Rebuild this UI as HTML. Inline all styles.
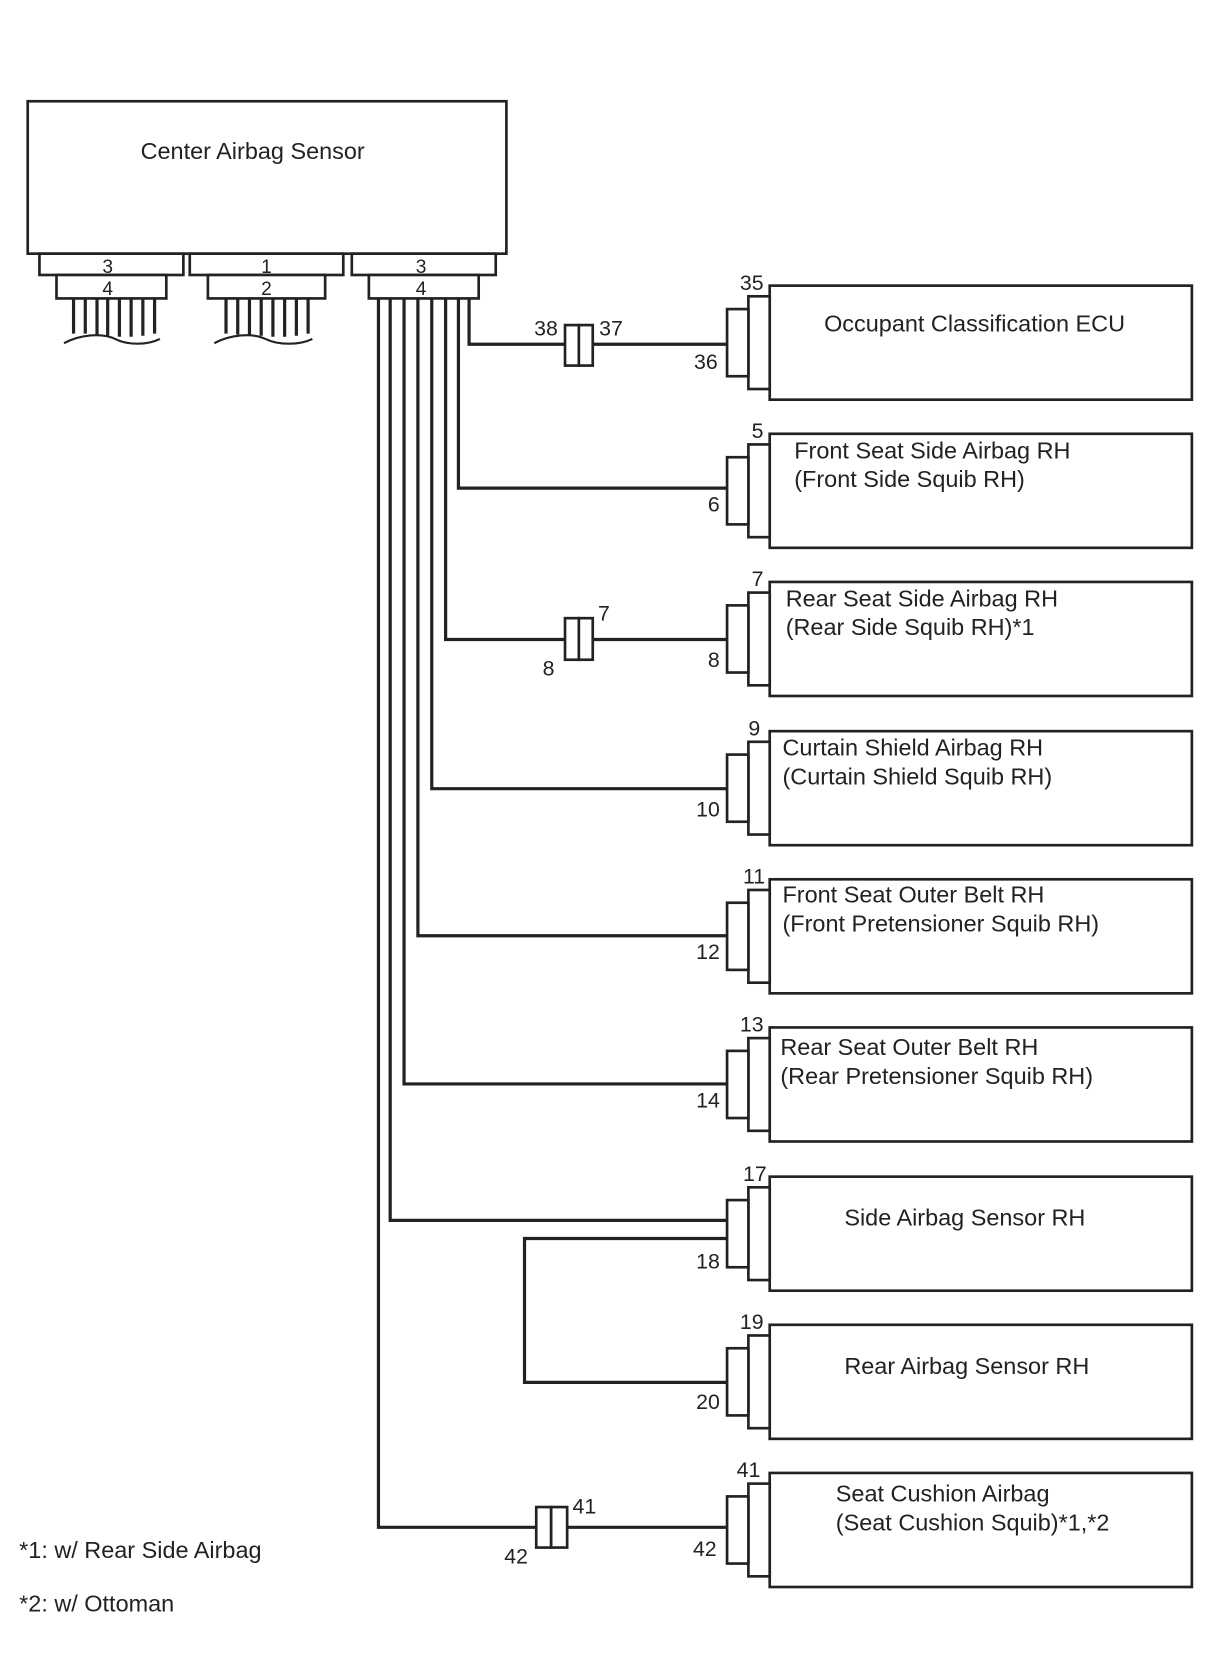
<!DOCTYPE html>
<html><head><meta charset="utf-8"><style>
html,body{margin:0;padding:0;background:#fff;}
svg{display:block;}
text{font-family:"Liberation Sans",Arial,sans-serif;font-size:20px;fill:#222;}
text.l{font-size:22px;}
</style></head><body>
<svg width="1210" height="1668" viewBox="0 0 1135 1565" preserveAspectRatio="none" xmlns="http://www.w3.org/2000/svg">
<g fill="#fff" stroke="#222" stroke-width="2.5">
<rect x="26" y="95" width="449" height="143"/>
<rect x="37" y="238" width="135" height="20"/>
<rect x="53" y="258" width="103" height="22"/>
<rect x="178" y="238" width="144" height="20"/>
<rect x="195" y="258" width="110" height="22"/>
<rect x="330" y="238" width="135" height="20"/>
<rect x="346" y="258" width="103" height="22"/>
</g>
<text class="l" x="237" y="149" text-anchor="middle">Center Airbag Sensor</text>
<g text-anchor="middle">
<text x="101" y="256" style="font-size:18px">3</text><text x="101" y="277" style="font-size:18px">4</text>
<text x="250" y="256" style="font-size:18px">1</text><text x="250" y="277" style="font-size:18px">2</text>
<text x="395" y="256" style="font-size:18px">3</text><text x="395" y="277" style="font-size:18px">4</text>
</g>
<g stroke="#222" stroke-width="3" fill="none">
<path d="M69 280V313M80 280V313M91 280V314M101 280V315M112 280V316M123 280V316M134 280V315M145 280V313"/>
<path d="M212 280V313M223 280V314M234 280V314M245 280V315M256 280V316M267 280V316M278 280V315M289 280V313"/>
</g>
<g stroke="#222" stroke-width="2" fill="none">
<path d="M60 322 C75 314,95 312,108 318 C120 324,138 324,150 318"/>
<path d="M201 322 C216 314,236 312,249 318 C261 324,281 324,293 318"/>
</g>
<g stroke="#222" stroke-width="3" fill="none">
<path d="M440 280V323H530M556 323H682"/>
<path d="M430 280V458H682"/>
<path d="M418 280V600H530M556 600H682"/>
<path d="M405 280V740H682"/>
<path d="M392 280V878H682"/>
<path d="M379 280V1017H682"/>
<path d="M366 280V1145H682"/>
<path d="M682 1162H492V1297H682"/>
<path d="M355 280V1433H503M532 1433H682"/>
</g>
<g fill="#fff" stroke="#222" stroke-width="2.5">
<rect x="530" y="305" width="13" height="38"/><rect x="543" y="305" width="13" height="38"/>
<rect x="530" y="580" width="13" height="39"/><rect x="543" y="580" width="13" height="39"/>
<rect x="503" y="1414" width="14" height="38"/><rect x="517" y="1414" width="15" height="38"/>
</g>
<text x="501" y="315">38</text><text x="562" y="315">37</text>
<text x="561" y="582">7</text><text x="509" y="634">8</text>
<text x="537" y="1420">41</text><text x="473" y="1467">42</text>
<g fill="#fff" stroke="#222" stroke-width="2.5">
<rect x="722" y="268" width="396" height="107"/><rect x="702" y="278" width="20" height="87"/><rect x="682" y="290" width="20" height="63"/>
<rect x="722" y="407" width="396" height="107"/><rect x="702" y="417" width="20" height="87"/><rect x="682" y="429" width="20" height="63"/>
<rect x="722" y="546" width="396" height="107"/><rect x="702" y="556" width="20" height="87"/><rect x="682" y="568" width="20" height="63"/>
<rect x="722" y="686" width="396" height="107"/><rect x="702" y="696" width="20" height="87"/><rect x="682" y="708" width="20" height="63"/>
<rect x="722" y="825" width="396" height="107"/><rect x="702" y="835" width="20" height="87"/><rect x="682" y="847" width="20" height="63"/>
<rect x="722" y="964" width="396" height="107"/><rect x="702" y="974" width="20" height="87"/><rect x="682" y="986" width="20" height="63"/>
<rect x="722" y="1104" width="396" height="107"/><rect x="702" y="1114" width="20" height="87"/><rect x="682" y="1126" width="20" height="63"/>
<rect x="722" y="1243" width="396" height="107"/><rect x="702" y="1253" width="20" height="87"/><rect x="682" y="1265" width="20" height="63"/>
<rect x="722" y="1382" width="396" height="107"/><rect x="702" y="1392" width="20" height="87"/><rect x="682" y="1404" width="20" height="63"/>
</g>
<text x="694" y="272">35</text><text x="651" y="346">36</text>
<text class="l" x="773" y="311">Occupant Classification ECU</text>
<text x="705" y="411">5</text><text x="664" y="480">6</text>
<text class="l" x="745" y="430">Front Seat Side Airbag RH</text><text class="l" x="745" y="457">(Front Side Squib RH)</text>
<text x="705" y="550">7</text><text x="664" y="626">8</text>
<text class="l" x="737" y="569">Rear Seat Side Airbag RH</text><text class="l" x="737" y="596">(Rear Side Squib RH)*1</text>
<text x="702" y="690">9</text><text x="653" y="766">10</text>
<text class="l" x="734" y="709">Curtain Shield Airbag RH</text><text class="l" x="734" y="736">(Curtain Shield Squib RH)</text>
<text x="697" y="829">11</text><text x="653" y="900">12</text>
<text class="l" x="734" y="847">Front Seat Outer Belt RH</text><text class="l" x="734" y="874">(Front Pretensioner Squib RH)</text>
<text x="694" y="968">13</text><text x="653" y="1039">14</text>
<text class="l" x="732" y="990">Rear Seat Outer Belt RH</text><text class="l" x="732" y="1017">(Rear Pretensioner Squib RH)</text>
<text x="697" y="1108">17</text><text x="653" y="1190">18</text>
<text class="l" x="792" y="1150">Side Airbag Sensor RH</text>
<text x="694" y="1247">19</text><text x="653" y="1322">20</text>
<text class="l" x="792" y="1289">Rear Airbag Sensor RH</text>
<text x="691" y="1386">41</text><text x="650" y="1460">42</text>
<text class="l" x="784" y="1409">Seat Cushion Airbag</text><text class="l" x="784" y="1436">(Seat Cushion Squib)*1,*2</text>
<text class="l" x="18" y="1462">*1: w/ Rear Side Airbag</text>
<text class="l" x="18" y="1512">*2: w/ Ottoman</text>
</svg>
</body></html>
